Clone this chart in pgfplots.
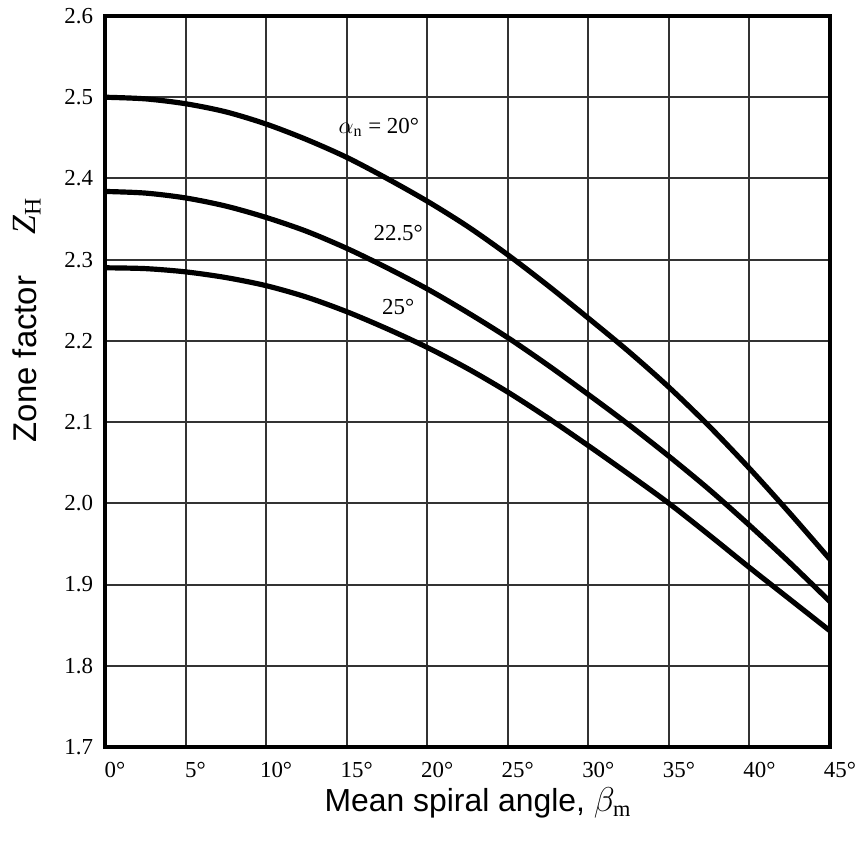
\documentclass[border=0pt]{standalone}
\usepackage{fontspec}
\setmainfont{Liberation Serif}
\newfontfamily\labelsans{Liberation Sans}
\usepackage{pgfplots}
\pgfplotsset{compat=1.18}

\begin{document}
\begin{tikzpicture}[x=1bp,y=1bp]
  \begin{axis}[
    width=362.5bp, height=365.5bp, scale only axis,
    xmin=0, xmax=45, ymin=1.7, ymax=2.6,
    xtick={0,5,10,15,20,25,30,35,40,45},
    xticklabels={0°,5°,10°,15°,20°,25°,30°,35°,40°,45°},
    ytick={1.7,1.8,1.9,2.0,2.1,2.2,2.3,2.4,2.5,2.6},
    major tick length=0pt,
    grid=major,
    major grid style={line width=1pt, black!80},
    axis line style={line width=2pt},
    tick label style={font=\fontsize{11.5}{13}\selectfont},
    xticklabel style={xshift=5bp, yshift=-6.5bp, inner sep=1bp},
    yticklabel style={xshift=-2.5bp},
    /pgf/number format/assume math mode=true,
    yticklabel={\pgfmathprintnumber[fixed,fixed zerofill,precision=1]{\tick}},
    clip=false,
  ]
  % alpha_n = 20
  \addplot[line width=2.6pt, smooth] coordinates {
    (0,2.500) (2.5,2.498) (5,2.492) (7.5,2.482) (10,2.467) (12.5,2.448)
    (15,2.426) (17.5,2.400) (20,2.372) (22.5,2.341) (25,2.306) (27.5,2.268)
    (30,2.228) (32.5,2.187) (35,2.143) (37.5,2.095) (40,2.043) (42.5,1.988)
    (45,1.931)};
  % alpha_n = 22.5
  \addplot[line width=2.6pt, smooth] coordinates {
    (0,2.384) (2.5,2.382) (5,2.376) (7.5,2.366) (10,2.352) (12.5,2.335)
    (15,2.314) (17.5,2.290) (20,2.264) (22.5,2.235) (25,2.204) (27.5,2.170)
    (30,2.134) (32.5,2.097) (35,2.058) (37.5,2.017) (40,1.973) (42.5,1.927)
    (45,1.879)};
  % alpha_n = 25
  \addplot[line width=2.6pt, smooth] coordinates {
    (0,2.290) (2.5,2.289) (5,2.285) (7.5,2.278) (10,2.268) (12.5,2.254)
    (15,2.236) (17.5,2.215) (20,2.192) (22.5,2.166) (25,2.137) (27.5,2.105)
    (30,2.071) (32.5,2.036) (35,2.000) (37.5,1.961) (40,1.921) (42.5,1.882)
    (45,1.843)};

  \node[font=\fontsize{11.5}{13}\selectfont] at (axis cs:17,2.463) {$\alpha_{\mathrm{n}}$ = 20°};
  \node[font=\fontsize{11.5}{13}\selectfont] at (axis cs:18.2,2.333) {22.5°};
  \node[font=\fontsize{11.5}{13}\selectfont] at (axis cs:18.2,2.242) {25°};
  \end{axis}

  % axis titles
  \node[rotate=90, font=\labelsans\fontsize{16.5}{18}\selectfont] at (-40bp,194bp) {Zone factor};
  \node[rotate=90, font=\fontsize{17}{19}\selectfont] at (-39bp,265.5bp) {$\mathit{Z}_{\mathrm{H}}$};
  \node[font=\labelsans\fontsize{16}{18}\selectfont, inner sep=1bp] at (186.5bp,-28bp) {Mean spiral angle, $\beta_{\mathrm{m}}$};

  \pgfresetboundingbox
  \path[use as bounding box] (-52.5bp,-47bp) rectangle (380bp,373.5bp);
\end{tikzpicture}
\end{document}
